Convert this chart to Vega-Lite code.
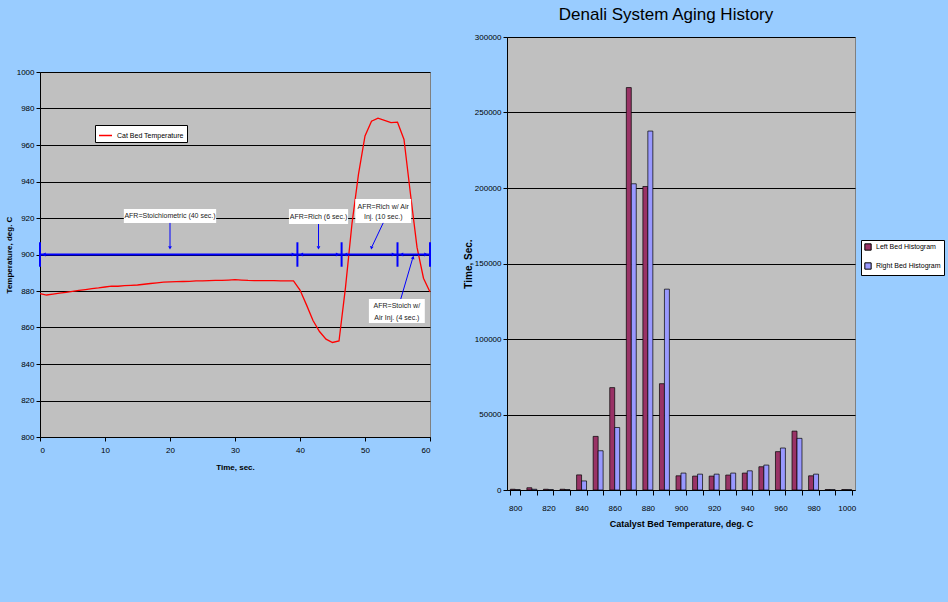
{
  "$schema": "https://vega.github.io/schema/vega-lite/v6.json",
  "background": "#99CCFF",
  "padding": {"left": 4, "top": 5, "right": 10, "bottom": 80},
  "datasets": {
    "temp": [
      {"t":0,"v":878.5},{"t":1,"v":877.8},{"t":2,"v":878.3},{"t":3,"v":878.8},{"t":4,"v":879.3},{"t":5,"v":879.8},
      {"t":6,"v":880.3},{"t":7,"v":880.8},{"t":8,"v":881.3},{"t":9,"v":881.7},{"t":10,"v":882.2},{"t":11,"v":882.7},
      {"t":12,"v":882.6},{"t":13,"v":882.9},{"t":14,"v":883.1},{"t":15,"v":883.3},{"t":16,"v":883.7},{"t":17,"v":884.1},
      {"t":18,"v":884.5},{"t":19,"v":884.9},{"t":20,"v":885.0},{"t":21,"v":885.1},{"t":22,"v":885.2},{"t":23,"v":885.3},
      {"t":24,"v":885.5},{"t":25,"v":885.6},{"t":26,"v":885.7},{"t":27,"v":885.8},{"t":28,"v":885.8},{"t":29,"v":886.0},
      {"t":30,"v":886.2},{"t":31,"v":886.0},{"t":32,"v":885.8},{"t":33,"v":885.7},{"t":34,"v":885.7},{"t":35,"v":885.7},
      {"t":36,"v":885.7},{"t":37,"v":885.6},{"t":38,"v":885.6},{"t":39,"v":885.6},{"t":40,"v":880.5},{"t":41,"v":872.4},
      {"t":42,"v":863.8},{"t":43,"v":857.8},{"t":44,"v":853.6},{"t":45,"v":851.8},{"t":46,"v":852.6},{"t":47,"v":882},
      {"t":48,"v":917},{"t":49,"v":944},{"t":50,"v":965},{"t":51,"v":973},{"t":52,"v":974.7},{"t":53,"v":973.5},
      {"t":54,"v":972.3},{"t":55,"v":972.5},{"t":56,"v":963},{"t":57,"v":933},{"t":58,"v":904},{"t":59,"v":887},{"t":60,"v":879.5}
    ],
    "hline": [{"t":0,"t2":60,"v":900}],
    "ticks": [{"t":0,"v":893.3,"v2":906.7},{"t":39.6,"v":893.3,"v2":906.7},{"t":46.4,"v":893.3,"v2":906.7},{"t":55,"v":893.3,"v2":906.7},{"t":60,"v":893.3,"v2":906.7}],
    "headsR": [{"t":39.0,"v":900},{"t":45.8,"v":900},{"t":54.4,"v":900},{"t":59.4,"v":900}],
    "headsL": [{"t":0.6,"v":900},{"t":40.2,"v":900},{"t":47.0,"v":900},{"t":55.6,"v":900}],
    "boxes": [
      {"t":12.9,"t2":27.1,"v":917.3,"v2":924.9},
      {"t":38.3,"t2":47.4,"v":916.7,"v2":924.9},
      {"t":48.5,"t2":57.1,"v":917.3,"v2":930.4},
      {"t":50.6,"t2":59.2,"v":862.5,"v2":875.6}
    ],
    "labels": [
      {"t":20,"v":921.1,"text":"AFR=Stoichiometric (40 sec.)"},
      {"t":42.85,"v":920.8,"text":"AFR=Rich (6 sec.)"},
      {"t":52.8,"v":926.2,"text":"AFR=Rich w/ Air"},
      {"t":52.8,"v":920.6,"text":"Inj. (10 sec.)"},
      {"t":54.9,"v":871.8,"text":"AFR=Stoich w/"},
      {"t":54.9,"v":865.4,"text":"Air Inj. (4 sec.)"}
    ],
    "arrows": [
      {"t":20,"t2":20,"v":917.3,"v2":904.5},
      {"t":42.85,"t2":42.85,"v":916.7,"v2":904.5},
      {"t":52.8,"t2":51.1,"v":917.3,"v2":904.5},
      {"t":55.5,"t2":57.3,"v":875.6,"v2":897.5}
    ],
    "headsD": [{"t":20,"v":903.6},{"t":42.85,"v":903.6}],
    "headsD2": [{"t":51.0,"v":903.6}],
    "headsU": [{"t":57.4,"v":898.4}],
    "hist": [
      {"T":800,"s":"Left Bed Histogram","h":500},{"T":800,"s":"Right Bed Histogram","h":300},
      {"T":810,"s":"Left Bed Histogram","h":1500},{"T":810,"s":"Right Bed Histogram","h":500},
      {"T":820,"s":"Left Bed Histogram","h":500},{"T":820,"s":"Right Bed Histogram","h":300},
      {"T":830,"s":"Left Bed Histogram","h":500},{"T":830,"s":"Right Bed Histogram","h":300},
      {"T":840,"s":"Left Bed Histogram","h":10000},{"T":840,"s":"Right Bed Histogram","h":6000},
      {"T":850,"s":"Left Bed Histogram","h":35500},{"T":850,"s":"Right Bed Histogram","h":26000},
      {"T":860,"s":"Left Bed Histogram","h":67800},{"T":860,"s":"Right Bed Histogram","h":41400},
      {"T":870,"s":"Left Bed Histogram","h":266500},{"T":870,"s":"Right Bed Histogram","h":202800},
      {"T":880,"s":"Left Bed Histogram","h":201000},{"T":880,"s":"Right Bed Histogram","h":237700},
      {"T":890,"s":"Left Bed Histogram","h":70400},{"T":890,"s":"Right Bed Histogram","h":133000},
      {"T":900,"s":"Left Bed Histogram","h":9400},{"T":900,"s":"Right Bed Histogram","h":11200},
      {"T":910,"s":"Left Bed Histogram","h":9200},{"T":910,"s":"Right Bed Histogram","h":10500},
      {"T":920,"s":"Left Bed Histogram","h":9200},{"T":920,"s":"Right Bed Histogram","h":10500},
      {"T":930,"s":"Left Bed Histogram","h":9900},{"T":930,"s":"Right Bed Histogram","h":11200},
      {"T":940,"s":"Left Bed Histogram","h":11200},{"T":940,"s":"Right Bed Histogram","h":12700},
      {"T":950,"s":"Left Bed Histogram","h":15400},{"T":950,"s":"Right Bed Histogram","h":16500},
      {"T":960,"s":"Left Bed Histogram","h":25400},{"T":960,"s":"Right Bed Histogram","h":27800},
      {"T":970,"s":"Left Bed Histogram","h":39000},{"T":970,"s":"Right Bed Histogram","h":34200},
      {"T":980,"s":"Left Bed Histogram","h":9400},{"T":980,"s":"Right Bed Histogram","h":10500},
      {"T":990,"s":"Left Bed Histogram","h":300},{"T":990,"s":"Right Bed Histogram","h":300},
      {"T":1000,"s":"Left Bed Histogram","h":300},{"T":1000,"s":"Right Bed Histogram","h":300}
    ]
  },
  "spacing": 28,
  "resolve": {"scale": {"color": "independent", "x": "independent", "y": "independent"}, "legend": {"color": "independent"}},
  "hconcat": [
    {
      "spacing": 15,
      "vconcat": [
        {
          "width": 390, "height": 15,
          "data": {"values": [{"a": 1}]},
          "mark": {"type": "text"},
          "encoding": {"text": {"value": ""}}
        },
        {
          "width": 390, "height": 365,
          "view": {"fill": "#C0C0C0", "stroke": "#808080"},
          "encoding": {
            "x": {"field": "t", "type": "quantitative", "scale": {"domain": [0, 60], "nice": false},
                  "axis": {"title": "Time, sec.", "values": [0,10,20,30,40,50,60], "grid": false, "tickSize": 4,
                           "labelFontSize": 8, "labelPadding": 5, "titleFontSize": 8, "titlePadding": 9, "labelOverlap": false}},
            "y": {"field": "v", "type": "quantitative", "scale": {"domain": [800, 1000], "nice": false},
                  "axis": {"title": "Temperature, deg. C", "values": [800,820,840,860,880,900,920,940,960,980,1000], "format": "d",
                           "labelOverlap": false, "grid": true, "gridColor": "#000", "gridWidth": 1.2, "tickSize": 4, "labelFontSize": 8,
                           "labelPadding": 2, "titleFontSize": 8, "titlePadding": 3}}
          },
          "layer": [
            {
              "data": {"name": "temp"},
              "mark": {"type": "line", "strokeWidth": 1.3},
              "encoding": {
                "color": {"datum": "Cat Bed Temperature", "type": "nominal", "scale": {"domain": ["Cat Bed Temperature"], "range": ["#FF0000"]},
                          "legend": {"orient": "none", "legendX": 55, "legendY": 88, "title": null, "fillColor": "#FFFFFF",
                                     "strokeColor": "#000", "padding": 3, "symbolType": "stroke", "symbolStrokeWidth": 1.5,
                                     "symbolSize": 170, "labelFontSize": 7, "labelFont": "Liberation Sans", "labelColor": "#000"}}
              }
            },
            {
              "data": {"name": "hline"},
              "mark": {"type": "rule", "color": "#0000FF", "strokeWidth": 2},
              "encoding": {"x2": {"field": "t2"}}
            },
            {
              "data": {"name": "ticks"},
              "mark": {"type": "rule", "color": "#0000FF", "strokeWidth": 2},
              "encoding": {"y2": {"field": "v2"}}
            },
            {
              "data": {"name": "headsR"},
              "mark": {"type": "point", "shape": "triangle-right", "filled": true, "color": "#0000FF", "size": 18, "opacity": 1}
            },
            {
              "data": {"name": "headsL"},
              "mark": {"type": "point", "shape": "triangle-left", "filled": true, "color": "#0000FF", "size": 18, "opacity": 1}
            },
            {
              "data": {"name": "boxes"},
              "mark": {"type": "rect", "fill": "#FFFFFF"},
              "encoding": {"x2": {"field": "t2"}, "y2": {"field": "v2"}}
            },
            {
              "data": {"name": "labels"},
              "mark": {"type": "text", "font": "Liberation Sans", "fontSize": 7, "color": "#222", "align": "center", "baseline": "middle"},
              "encoding": {"text": {"field": "text", "type": "nominal"}}
            },
            {
              "data": {"name": "arrows"},
              "mark": {"type": "rule", "color": "#0000FF", "strokeWidth": 1},
              "encoding": {"x2": {"field": "t2"}, "y2": {"field": "v2"}}
            },
            {
              "data": {"name": "headsD"},
              "mark": {"type": "point", "shape": "triangle-down", "filled": true, "color": "#0000FF", "size": 14, "opacity": 1}
            },
            {
              "data": {"name": "headsD2"},
              "mark": {"type": "point", "shape": "triangle-down", "angle": 10, "filled": true, "color": "#0000FF", "size": 14, "opacity": 1}
            },
            {
              "data": {"name": "headsU"},
              "mark": {"type": "point", "shape": "triangle-up", "angle": 16, "filled": true, "color": "#0000FF", "size": 14, "opacity": 1}
            }
          ]
        }
      ]
    },
    {
      "width": 348, "height": 453,
      "title": {"text": "Denali System Aging History", "fontSize": 17, "font": "Liberation Sans", "fontWeight": "normal", "color": "#000", "offset": 10, "dx": -15, "dy": 1},
      "view": {"fill": "#C0C0C0", "stroke": "#808080"},
      "data": {"name": "hist"},
      "mark": {"type": "bar", "stroke": "#000", "strokeWidth": 0.7},
      "encoding": {
        "x": {"field": "T", "type": "ordinal", "scale": {"paddingInner": 0.4, "paddingOuter": 0.2},
              "axis": {"title": "Catalyst Bed Temperature, deg. C", "labelExpr": "datum.value % 20 == 0 ? datum.label : ''",
                       "tickBand": "extent", "labelAngle": 0, "tickSize": 5, "labelFont": "Liberation Sans",
                       "labelFontSize": 8, "labelPadding": 9, "titleFont": "Liberation Sans", "titleFontSize": 9, "titlePadding": 7}},
        "xOffset": {"field": "s", "type": "nominal", "sort": ["Left Bed Histogram", "Right Bed Histogram"]},
        "y": {"field": "h", "type": "quantitative", "scale": {"domain": [0, 300000], "nice": false},
              "axis": {"title": "Time, Sec.", "values": [0,50000,100000,150000,200000,250000,300000], "format": "d",
                       "labelOverlap": false, "grid": true, "gridColor": "#000", "gridWidth": 1, "tickSize": 4, "labelFont": "Liberation Sans",
                       "labelFontSize": 8, "labelPadding": 2, "titleFontSize": 10, "titlePadding": 1}},
        "color": {"field": "s", "type": "nominal",
                  "scale": {"domain": ["Left Bed Histogram", "Right Bed Histogram"], "range": ["#993366", "#9999FF"]},
                  "legend": {"orient": "none", "legendX": 354, "legendY": 203, "title": null, "fillColor": "#FFFFFF",
                             "strokeColor": "#000", "padding": 3, "symbolType": "square", "symbolSize": 40,
                             "symbolStrokeColor": "#000", "symbolStrokeWidth": 1, "labelFont": "Liberation Sans",
                             "labelFontSize": 7, "labelColor": "#000", "rowPadding": 7}}
      }
    }
  ],
  "config": {
    "view": {"stroke": null},
    "font": "Liberation Sans",
    "axis": {"labelFont": "Liberation Sans", "labelColor": "#000", "tickColor": "#000", "domainColor": "#000",
             "titleColor": "#000", "titleFont": "Liberation Sans", "titleFontWeight": "bold", "grid": false}
  }
}
